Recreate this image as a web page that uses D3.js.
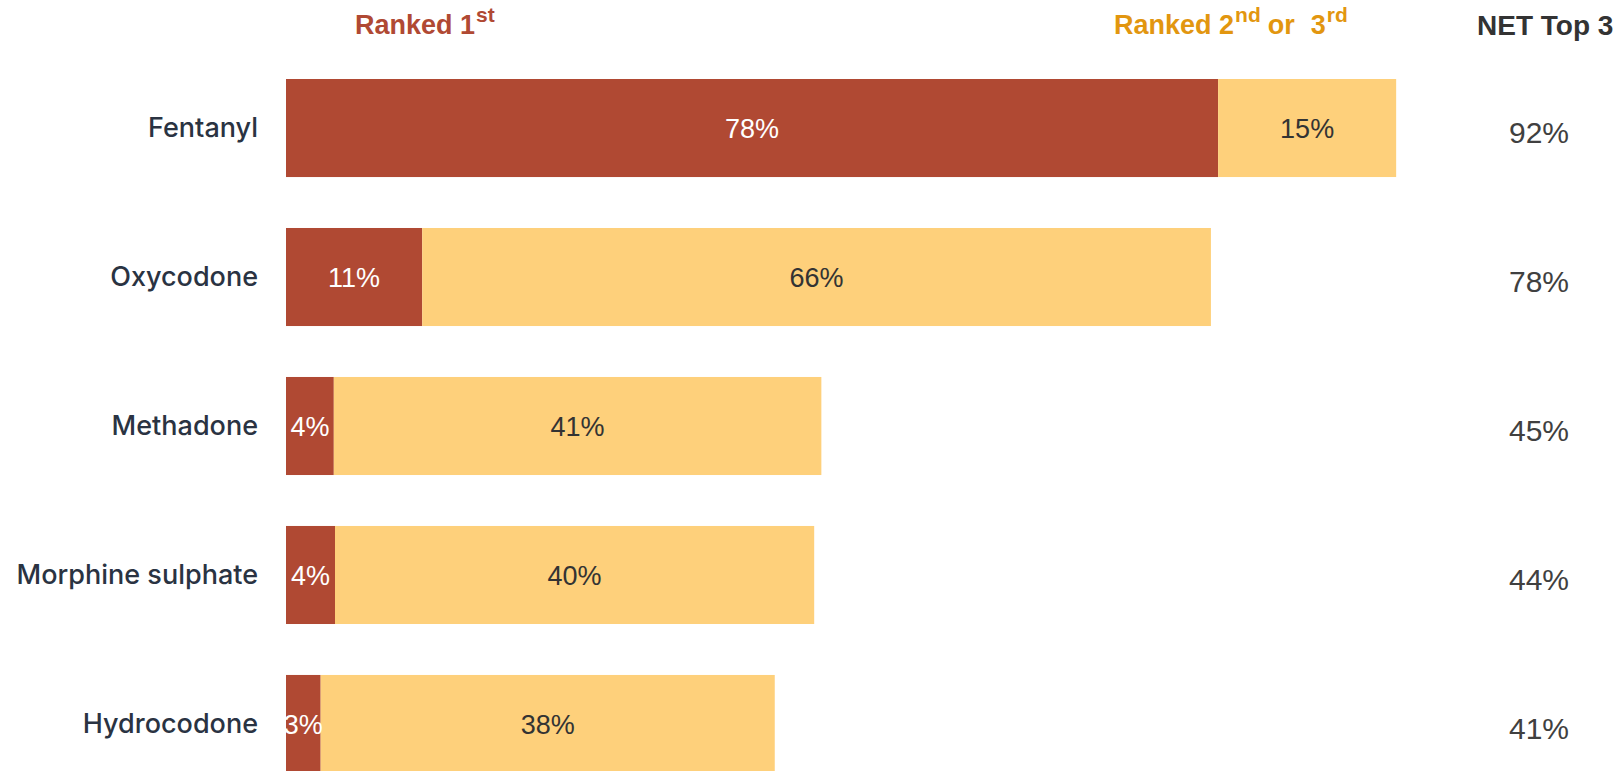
<!DOCTYPE html>
<html>
<head>
<meta charset="utf-8">
<script src="https://cdn.jsdelivr.net/npm/d3@7.9.0/dist/d3.min.js"></script>
<style>
  body { margin: 0; background: #fff; }
  svg { display: block; }
</style>
</head>
<body>
<svg id="chart" width="1620" height="771"></svg>
<script>
const categories = ['Fentanyl', 'Oxycodone', 'Methadone', 'Morphine sulphate', 'Hydrocodone'];
const rankedFirst = [78.0, 11.4, 4.0, 4.1, 2.9];
const rankedSecondThird = [14.9, 66.0, 40.8, 40.1, 38.0];
const firstLabels = ['78%', '11%', '4%', '4%', '3%'];
const secondThirdLabels = ['15%', '66%', '41%', '40%', '38%'];
const netTop3 = ['92%', '78%', '45%', '44%', '41%'];

const RED = '#b04933';
const YELLOW = '#fed07b';

const svg = d3.select('#chart');

const x = d3.scaleLinear()
  .domain([0, 100])
  .range([286, 1481]);

const y = d3.scaleBand()
  .domain(categories)
  .range([79, 773])
  .paddingInner(0.342)
  .paddingOuter(0);

const rows = categories.map((c, i) => ({
  name: c,
  first: rankedFirst[i],
  second: rankedSecondThird[i],
  firstLabel: firstLabels[i],
  secondLabel: secondThirdLabels[i],
  net: netTop3[i]
}));

// headers
const header = svg.append('g')
  .attr('font-family', 'Liberation Sans, Arial, sans-serif')
  .attr('font-weight', 'bold')
  .attr('font-size', 27);

let h1 = header.append('text').attr('x', 355).attr('y', 34).attr('fill', RED);
h1.append('tspan').text('Ranked 1');
h1.append('tspan').attr('font-size', 21).attr('dx', 1).attr('dy', -12).text('st');

let h2 = header.append('text').attr('x', 1114).attr('y', 34).attr('fill', '#e2960f');
h2.append('tspan').text('Ranked 2');
h2.append('tspan').attr('font-size', 21).attr('dx', 1).attr('dy', -12).text('nd');
h2.append('tspan').attr('dy', 12).attr('dx', 7).text('or');
h2.append('tspan').attr('dx', 16).text('3');
h2.append('tspan').attr('font-size', 21).attr('dx', 1).attr('dy', -12).text('rd');

header.append('text')
  .attr('x', 1477).attr('y', 35)
  .attr('fill', '#333333')
  .attr('font-size', 28)
  .text('NET Top 3');

// rows
const row = svg.selectAll('g.row')
  .data(rows)
  .join('g')
  .attr('class', 'row');

row.append('rect')
  .attr('x', x(0))
  .attr('y', d => y(d.name))
  .attr('width', d => x(d.first) - x(0))
  .attr('height', y.bandwidth())
  .attr('fill', RED);

row.append('rect')
  .attr('x', d => x(d.first))
  .attr('y', d => y(d.name))
  .attr('width', d => x(d.first + d.second) - x(d.first))
  .attr('height', y.bandwidth())
  .attr('fill', YELLOW);

row.append('text')
  .attr('x', 258)
  .attr('y', d => y(d.name) + y.bandwidth() / 2 + 9)
  .attr('text-anchor', 'end')
  .attr('font-family', 'Inter, sans-serif')
  .attr('font-weight', 500)
  .attr('font-size', 27)
  .attr('fill', '#2a3342')
  .text(d => d.name);

row.append('text')
  .attr('x', d => (x(0) + x(d.first)) / 2)
  .attr('y', d => y(d.name) + y.bandwidth() / 2 + 10)
  .attr('text-anchor', 'middle')
  .attr('font-family', 'Liberation Sans, Arial, sans-serif')
  .attr('font-size', 27)
  .attr('fill', '#ffffff')
  .text(d => d.firstLabel);

row.append('text')
  .attr('x', d => (x(d.first) + x(d.first + d.second)) / 2)
  .attr('y', d => y(d.name) + y.bandwidth() / 2 + 10)
  .attr('text-anchor', 'middle')
  .attr('font-family', 'Liberation Sans, Arial, sans-serif')
  .attr('font-size', 27)
  .attr('fill', '#333333')
  .text(d => d.secondLabel);

row.append('text')
  .attr('x', 1539)
  .attr('y', d => y(d.name) + y.bandwidth() / 2 + 15)
  .attr('text-anchor', 'middle')
  .attr('font-family', 'Liberation Sans, Arial, sans-serif')
  .attr('font-size', 30)
  .attr('fill', '#404040')
  .text(d => d.net);
</script>
</body>
</html>
